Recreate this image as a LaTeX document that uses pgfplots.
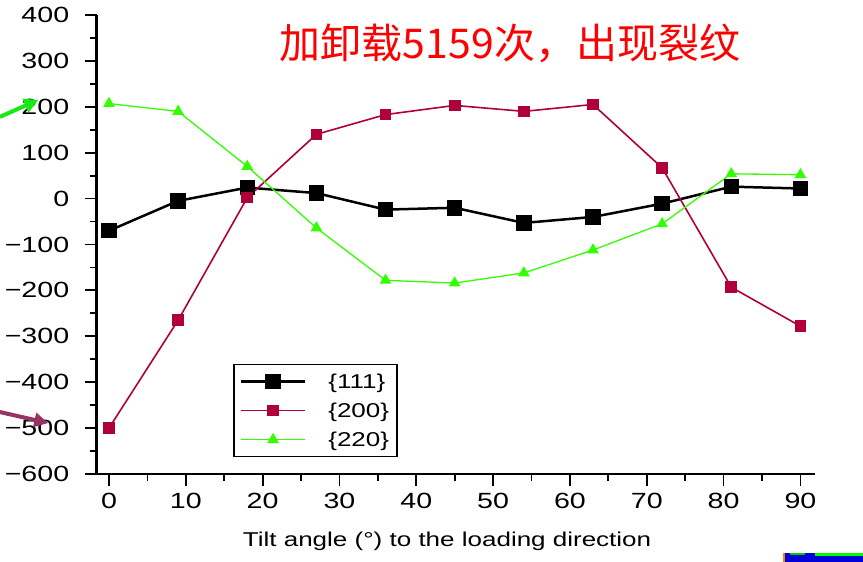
\documentclass[border=0pt]{standalone}
\usepackage{pgfplots}
\pgfplotsset{compat=1.18}
\usetikzlibrary{arrows.meta}
\usepackage{fontspec}
\setmainfont{Liberation Sans}[FakeStretch=1.3]
\newfontfamily\cjk{Noto Sans CJK SC}
\definecolor{c111}{RGB}{0,0,0}
\definecolor{c200}{RGB}{176,0,58}
\definecolor{c220}{RGB}{51,255,0}
\definecolor{arrowpurple}{RGB}{150,50,100}
\definecolor{arrowgreen}{RGB}{20,235,20}

% residual stress vs tilt angle, one column per reflection
\pgfplotstableread{
psi   s111  s200  s220
0     -70   -500   207
9     -5    -265   190
18    24     2     70
27    12     140  -64
36    -24    183  -178
45    -20    203  -184
54    -53    190  -162
63    -40    205  -112
72    -11    67   -55
81    26    -193   54
90    22    -278   52
}\stressdata

\begin{document}
\begin{tikzpicture}
\begin{axis}[
  at={(96.7bp,88bp)}, anchor=south west,
  scale only axis, width=718bp, height=459bp,
  xmin=-1.6, xmax=91.86, ymin=-600, ymax=400,
  axis x line=bottom, axis y line=left,
  x axis line style={-, line width=1.8bp},
  y axis line style={-, line width=3bp},
  tick align=outside,
  xtick={0,10,...,90}, minor xtick={5,15,...,85},
  ytick={-600,-500,...,400}, minor ytick={-550,-450,...,350},
  yticklabels={−600,−500,−400,−300,−200,−100,0,100,200,300,400},
  major tick length=12bp, minor tick length=7bp,
  every tick/.style={black, line width=1.8bp},
  /pgf/number format/assume math mode=true,
  ticklabel style={font=\fontsize{22bp}{26bp}\selectfont},
  xticklabel style={yshift=-4bp},
  yticklabel style={xshift=-12bp},
  xlabel={Tilt angle (°) to the loading direction},
  xlabel style={font=\fontsize{20bp}{24bp}\selectfont, at={(rel axis cs:0.488,0)}, anchor=center, yshift=-67bp},
  clip=false,
  legend style={at={(rel axis cs:0.19,0.2397)}, anchor=north west, draw=black, line width=1.4bp,
    font=\fontsize{20bp}{24bp}\selectfont, cells={anchor=west}, row sep=9bp, column sep=20bp,
    inner xsep=6bp, inner ysep=7bp},
  legend image code/.code={\draw[mark repeat=2,mark phase=2,#1] plot coordinates {(0bp,0bp) (32bp,0bp) (64bp,0bp)};},
]
\addplot[c111, line width=2.5bp, mark=square*, mark size=6.5bp, mark options={solid}] table[x=psi, y=s111] {\stressdata};
\addlegendentry{\{111\}}
\addplot[c200, line width=1.6bp, mark=square*, mark size=5bp, mark options={solid}] table[x=psi, y=s200] {\stressdata};
\addlegendentry{\{200\}}
\addplot[c220, line width=1.3bp, mark=triangle*, mark size=5.5bp, mark options={solid}] table[x=psi, y=s220] {\stressdata};
\addlegendentry{\{220\}}

% pointer arrows beside the axis
\draw[arrowgreen, line width=4bp, -{Triangle[length=14bp,width=14bp]}] (axis cs:-14.2,178) -- (axis cs:-9.2,215);
\draw[arrowpurple, line width=4bp, -{Triangle[length=14bp,width=14bp]}] (axis cs:-14.2,-465) -- (axis cs:-7.9,-489);
\end{axis}

\node[text=red, font=\cjk\fontsize{41bp}{45bp}\selectfont] at (510bp,519bp) {加卸载5159次，出现裂纹};

% corner of a neighbouring figure
\fill[blue!85!black] (785bp,0bp) rectangle (863bp,9bp);
\fill[green] (815bp,6bp) rectangle (863bp,9bp);
\fill[green!80!black] (790bp,7bp) rectangle (805bp,9bp);
\draw[orange, line width=1.5bp] (784bp,0bp) -- (784bp,9bp);

\pgfresetboundingbox
\useasboundingbox (0,0) rectangle (863bp,562bp);
\end{tikzpicture}
\end{document}
